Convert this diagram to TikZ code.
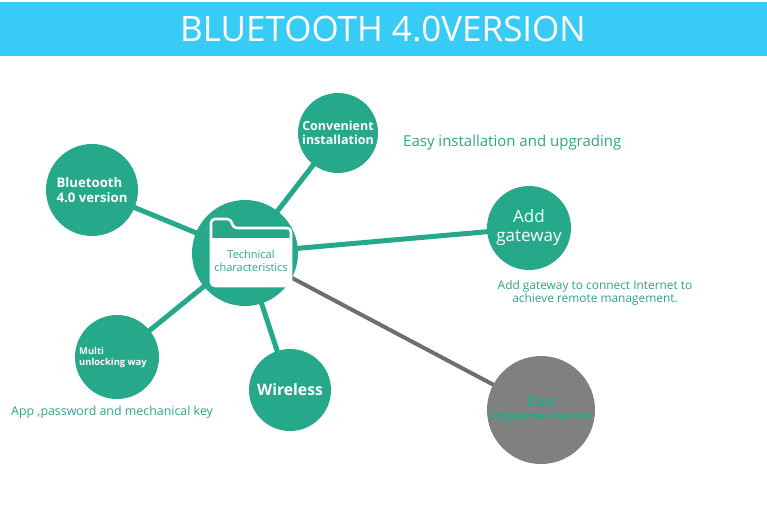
\documentclass[tikz,border=0pt]{standalone}
\usepackage{fontspec}
\setmainfont{Open Sans}
\usetikzlibrary{backgrounds}
\definecolor{teal1}{RGB}{38,168,139}
\definecolor{tealtxt}{RGB}{45,165,135}
\definecolor{sky}{RGB}{56,203,246}
\definecolor{greyc}{RGB}{128,128,128}
\definecolor{greyl}{RGB}{110,110,110}
\tikzset{
  bubble/.style={circle,fill=teal1,text=white,inner sep=0pt,align=center,font=\bfseries},
  link/.style={draw=teal1,line width=5pt},
  glink/.style={draw=greyl,line width=4pt},
  note/.style={text=tealtxt,align=center,inner sep=0pt}
}
\begin{document}
\begin{tikzpicture}[x=1pt,y=-1pt]
\useasboundingbox (0,0) rectangle (767,525);
\fill[sky] (0,2) rectangle (767,56);
\node[text=white,font=\fontsize{35}{40}\selectfont] (title) at (383,29) {BLUETOOTH 4.0VERSION};

\node[bubble,minimum size=106pt] (c) at (245,253) {};
\node[bubble,minimum size=92pt,font=\bfseries\fontsize{13.2}{15}\selectfont,align=left] (bt) at (92,190) {Bluetooth\\4.0 version};
\node[bubble,minimum size=80pt,font=\bfseries\fontsize{12.5}{14}\selectfont] (ci) at (338,133) {Convenient\\installation};
\node[bubble,minimum size=84pt,font=\fontsize{17}{19}\selectfont] (ag) at (529,228) {Add\\gateway};
\node[bubble,minimum size=84pt,inner sep=0pt] (mu) at (117,357) {};
\node[text=white,font=\bfseries\fontsize{9.4}{11}\selectfont,align=left,anchor=west,inner sep=0pt] (mut) at (79,358) {Multi\\unlocking way};
\node[bubble,minimum size=82pt,font=\bfseries\fontsize{15.7}{18}\selectfont] (wl) at (290,390) {Wireless};
\node[circle,fill=greyc,minimum size=108pt,inner sep=0pt,text=teal1,align=center,font=\bfseries\fontsize{12.5}{15}\selectfont] (ez) at (541,410) {Easy\\implementation};

\begin{pgfonlayer}{background}
\draw[link] (c.center) -- (bt.center);
\draw[link] (c.center) -- (ci.center);
\draw[link] (c.center) -- (ag.center);
\draw[link] (c.center) -- (mu.center);
\draw[link] (c.center) -- (wl.center);
\draw[glink] (c.center) -- (ez.center);
\end{pgfonlayer}

% folder icon
\draw[white,line width=2.6pt,rounded corners=4pt] (211,286) -- (211,219) -- (231,219) -- (233,228) -- (291,228) -- (291,286) -- cycle;
\draw[white,line width=2.6pt] (211,239) -- (291,239);
\fill[white,rounded corners=4pt] (211,239) rectangle (291,286);
\node[note,font=\fontsize{11}{13}\selectfont] (tc) at (251,261) {Technical\\characteristics};

\node[note,font=\fontsize{15}{17}\selectfont,anchor=west] (n1) at (403,143) {Easy installation and upgrading};
\node[note,font=\fontsize{11.9}{13.5}\selectfont] (n2) at (595,293) {Add gateway to connect Internet to\\achieve remote management.};
\node[note,font=\fontsize{12.4}{14}\selectfont,anchor=west] (n3) at (11,412) {App ,password and mechanical key};
\end{tikzpicture}
\end{document}
